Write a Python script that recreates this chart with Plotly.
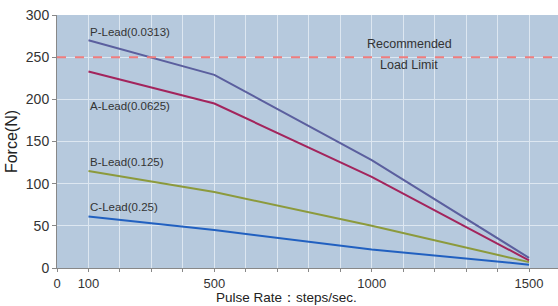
import plotly.graph_objects as go

pulse_rate = [100, 500, 1000, 1500]
p_lead = [270, 229, 128, 12]
a_lead = [233, 195, 108, 9]
b_lead = [115, 90, 50, 7]
c_lead = [61, 45, 22, 4]
series_names = ["P-Lead(0.0313)", "A-Lead(0.0625)", "B-Lead(0.125)", "C-Lead(0.25)"]
load_limit = 250
x_ticks = [0, 100, 500, 1000, 1500]
y_ticks = [0, 50, 100, 150, 200, 250, 300]

colors = ["#5b5f9e", "#a3245c", "#8c9a3c", "#2160c0"]
series = [p_lead, a_lead, b_lead, c_lead]

fig = go.Figure()
for name, ys, c in zip(series_names, series, colors):
    fig.add_trace(go.Scatter(x=pulse_rate, y=ys, mode="lines", name=name,
                             line=dict(color=c, width=2), showlegend=False))

fig.add_trace(go.Scatter(x=[0, 1600], y=[load_limit, load_limit], mode="lines",
                         line=dict(color="#f07d7d", width=2, dash="dash"), showlegend=False))

label_y = [280, 192, 126, 72]
for name, ly in zip(series_names, label_y):
    fig.add_annotation(x=100, y=ly, text=name, showarrow=False, xanchor="left",
                       font=dict(family="Liberation Sans, Arial", size=11.5, color="#333333"))

fig.add_annotation(x=1120, y=266, text="Recommended", showarrow=False,
                   font=dict(family="Liberation Sans, Arial", size=12.5, color="#333333"))
fig.add_annotation(x=1120, y=241, text="Load Limit", showarrow=False,
                   font=dict(family="Liberation Sans, Arial", size=12.5, color="#333333"))

fig.add_annotation(xref="paper", yref="paper", x=0.459, y=-0.117, xanchor="center", yanchor="middle",
                   text="Pulse Rate：steps/sec.", showarrow=False,
                   font=dict(family="Liberation Sans, Arial", size=13.5, color="#222222"))

fig.update_layout(
    width=558, height=306,
    margin=dict(l=57, r=0, t=15, b=38),
    paper_bgcolor="white", plot_bgcolor="#b6c9dd",
    font=dict(family="Liberation Sans, Arial", size=14, color="#333333"),
)
fig.update_xaxes(range=[0, 1592], tickvals=x_ticks, ticks="outside", ticklen=3,
                 tickcolor="#888888", showline=True, linecolor="#888888", linewidth=1,
                 tickfont=dict(size=13),
                 showgrid=False, zeroline=False,
                 minor=dict(dtick=100, tick0=0, showgrid=True, gridcolor="#dde7f1", gridwidth=1,
                            ticks="outside", ticklen=3, tickcolor="#888888"))
fig.update_yaxes(range=[0, 300], tickvals=y_ticks, ticks="outside", ticklen=4,
                 tickcolor="#888888", showline=True, linecolor="#888888", linewidth=1,
                 showgrid=True, gridcolor="#dde7f1", gridwidth=1, zeroline=False,
                 title=dict(text="Force(N)", font=dict(size=16, color="#222222"), standoff=4))

fig.write_html("out.html", config={"displayModeBar": False},
               post_script="document.body.style.margin='0';")
